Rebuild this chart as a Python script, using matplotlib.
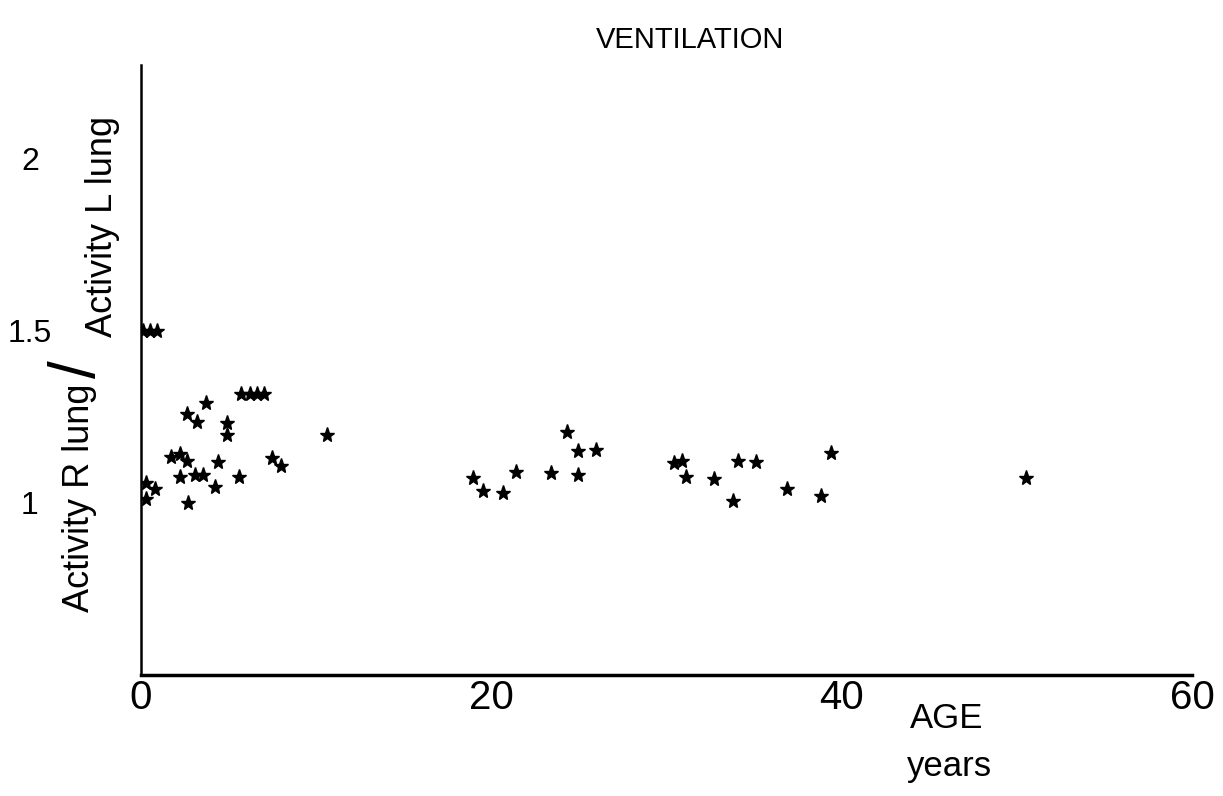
import matplotlib
matplotlib.use("Agg")
import matplotlib.pyplot as plt

# Data
age = [0.1, 0.5, 0.9,
       0.3, 0.8, 0.3, 1.7, 2.2, 2.65, 2.2, 2.7, 2.6, 3.2, 3.1, 3.55, 3.7,
       4.2, 4.4, 4.9, 4.9, 5.6, 5.7, 6.2, 6.6, 7.0, 7.5, 8.0, 10.6,
       18.95, 19.55, 20.65, 21.4, 23.4, 24.3, 24.95, 24.95, 26.0,
       30.4, 30.9, 31.1, 32.7, 33.8, 34.1, 35.1, 36.9, 38.8, 39.4, 50.5]
ratio = [1.50, 1.50, 1.50,
         1.056, 1.04, 1.011, 1.134, 1.141, 1.122, 1.075, 0.998, 1.259, 1.235, 1.08, 1.08, 1.29,
         1.046, 1.117, 1.232, 1.197, 1.075, 1.316, 1.316, 1.316, 1.316, 1.13, 1.107, 1.197,
         1.073, 1.033, 1.027, 1.088, 1.086, 1.204, 1.151, 1.081, 1.153,
         1.114, 1.12, 1.076, 1.07, 1.006, 1.12, 1.119, 1.04, 1.02, 1.144, 1.073]

x_ticks = [0, 20, 40, 60]
y_ticks = [1, 1.5, 2]
y_tick_labels = ["1", "1.5", "2"]

plt.rcParams['font.family'] = ['Liberation Sans', 'DejaVu Sans']

fig = plt.figure(figsize=(12.23, 7.96), dpi=100)
ax = fig.add_axes([0.1153, 0.152, 0.8594, 0.766])

ax.plot(age, ratio, linestyle='none', marker='*', color='black', markersize=11)

ax.set_xlim(0, 60)
ax.set_ylim(0.5, 2.27)

ax.spines['top'].set_visible(False)
ax.spines['right'].set_visible(False)
ax.spines['bottom'].set_linewidth(2.5)
ax.spines['left'].set_linewidth(1.8)

ax.set_xticks(x_ticks)
ax.set_xticklabels([str(t) for t in x_ticks], fontsize=29)
ax.tick_params(axis='x', length=0, pad=3)

ax.set_yticks(y_ticks)
ax.set_yticklabels(y_tick_labels, fontsize=23)
ax.tick_params(axis='y', length=0, pad=80)
for lab in ax.get_yticklabels():
    lab.set_horizontalalignment('center')

# Title
fig.text(0.564, 0.95, "VENTILATION", ha='center', va='center', fontsize=21)

# Y label: "Activity R lung / Activity L lung"
fig.text(0.0654, 0.374, "Activity R lung", rotation=90, ha='center', va='center',
         fontsize=26)
fig.text(0.0640, 0.536, "/", rotation=90, ha='center', va='center',
         fontsize=46)
fig.text(0.0840, 0.715, "Activity L lung", rotation=90, ha='center', va='center',
         fontsize=26)

# X label
fig.text(0.774, 0.097, "AGE", ha='center', va='center', fontsize=25)
fig.text(0.776, 0.037, "years", ha='center', va='center', fontsize=25)

fig.savefig("out.png", dpi=100)
